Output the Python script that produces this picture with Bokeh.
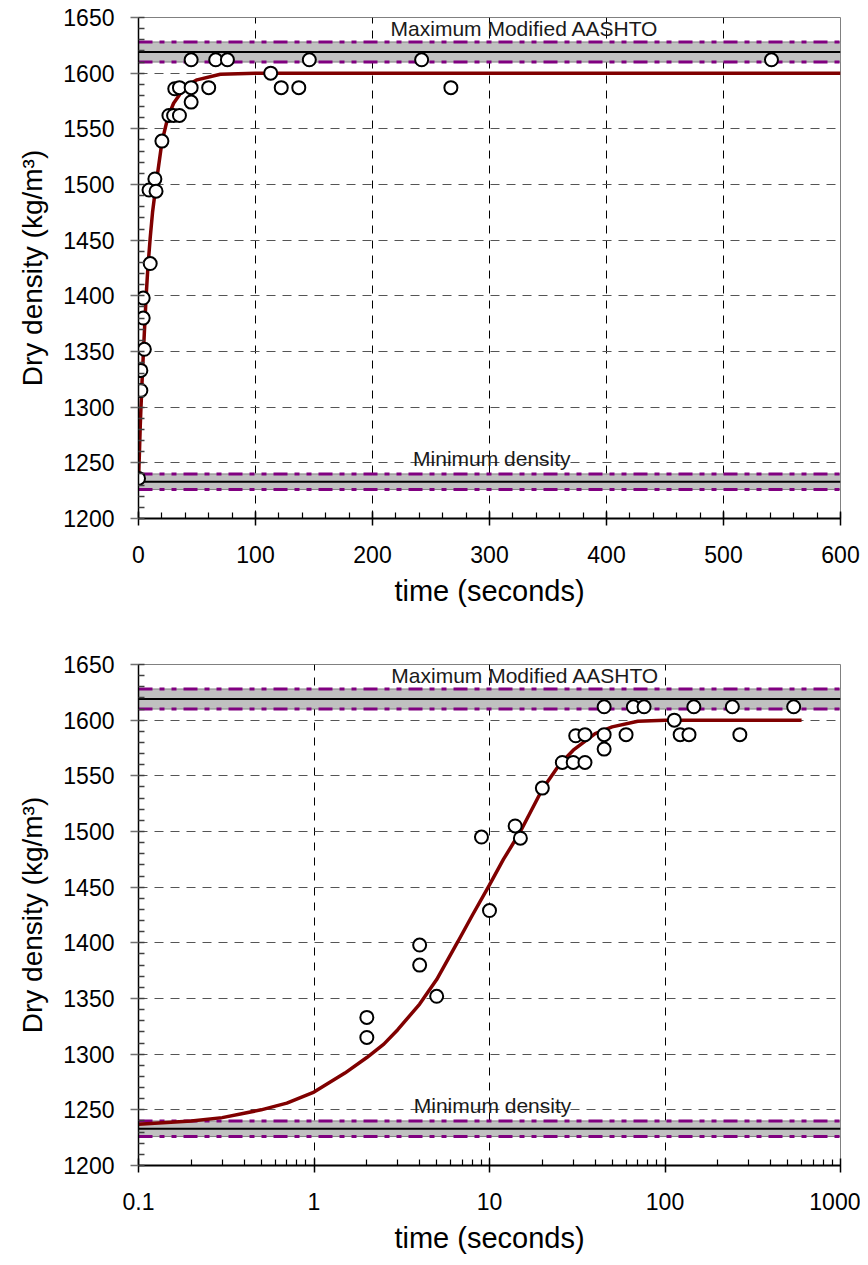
from bokeh.plotting import figure
from bokeh.models import Range1d, FixedTicker, Label
from bokeh.layouts import column
from bokeh.embed import file_html
from bokeh.resources import INLINE

# ---------------- data ----------------
obs_time = [0, 2, 2, 4, 4, 5, 9, 10, 14, 15, 20, 26, 30, 35, 31, 35,
            45, 45, 45, 60, 66, 76, 113, 122, 137, 146, 242, 267, 541]
obs_density = [1236, 1333, 1315, 1398, 1380, 1352, 1495, 1429, 1505, 1494,
               1539, 1562, 1562, 1562, 1586, 1587, 1574, 1587, 1612, 1587,
               1612, 1612, 1600, 1587, 1587, 1612, 1612, 1587, 1612]

fit_time = [0, 0.1, 0.2, 0.3, 0.4, 0.5, 0.7, 1, 1.5, 2, 2.5, 3, 4, 5, 6.6,
            8, 10, 12, 15, 20, 25, 30, 40, 50, 70, 100, 200, 600]
fit_density = [1236, 1237, 1240, 1243, 1247, 1250, 1256, 1266, 1283, 1297,
               1309, 1322, 1345, 1367, 1401, 1425, 1452, 1475, 1500, 1538,
               1560, 1573, 1588, 1594, 1599, 1600, 1600, 1600]

max_aashto = 1619
max_band = (1610, 1628)
min_density = 1233
min_band = (1226, 1240)

y_ticks = [1200, 1250, 1300, 1350, 1400, 1450, 1500, 1550, 1600, 1650]
x_ticks_lin = [0, 100, 200, 300, 400, 500, 600]
x_ticks_log = [0.1, 1, 10, 100, 1000]
x_tick_labels_log = ["0.1", "1", "10", "100", "1000"]

label_max = "Maximum Modified AASHTO"
label_min = "Minimum density"

FONT = "Liberation Sans"
PURPLE = "#800080"
CURVE = "#800000"
DASHDOT = "14 7 5 7 5 7"


def build(log, x_lo, x_hi, top_border, bottom_border, lab_max_x, lab_min_x):
    kw = dict(x_axis_type="log") if log else {}
    p = figure(frame_width=702, frame_height=501,
               x_range=Range1d(x_lo, x_hi), y_range=Range1d(1200, 1650),
               output_backend="svg", toolbar_location=None, **kw)
    p.min_border_left = 138
    p.min_border_right = 20
    p.min_border_top = top_border
    p.min_border_bottom = bottom_border
    p.outline_line_color = "#808080"
    p.outline_line_width = 1
    p.background_fill_color = "white"

    # y axis
    yax = p.yaxis[0]
    yax.ticker = FixedTicker(ticks=y_ticks,
                             minor_ticks=[v for v in range(1200, 1651, 10)])
    yax.axis_line_color = "black"
    yax.axis_line_width = 1.5
    yax.major_tick_out = 8
    yax.major_tick_in = 0
    yax.major_tick_line_color = "#707070"
    yax.major_tick_line_width = 1.5
    yax.minor_tick_in = 6
    yax.minor_tick_out = 0
    yax.minor_tick_line_color = "#404040"
    yax.minor_tick_line_width = 1.5
    yax.major_label_text_font = FONT
    yax.major_label_text_font_size = "23px"
    yax.major_label_text_color = "black"
    yax.major_label_standoff = 16
    yax.axis_label = "Dry density (kg/m\u00b3)"
    yax.axis_label_text_font = FONT
    yax.axis_label_text_font_size = "28px"
    yax.axis_label_text_font_style = "normal"
    yax.axis_label_text_color = "black"
    yax.axis_label_standoff = 12

    # x axis
    xax = p.xaxis[0]
    if log:
        minors = []
        for dec in [0.1, 1, 10, 100]:
            minors += [dec * k for k in range(2, 10)]
        xax.ticker = FixedTicker(ticks=x_ticks_log, minor_ticks=minors)
        xax.major_label_overrides = {t: s for t, s in zip(x_ticks_log, x_tick_labels_log)}
    else:
        xax.ticker = FixedTicker(ticks=x_ticks_lin,
                                 minor_ticks=[v for v in range(0, 601, 20)])
    xax.axis_line_color = "black"
    xax.axis_line_width = 2
    xax.major_tick_out = 7
    xax.major_tick_in = 7
    xax.major_tick_line_color = "black"
    xax.major_tick_line_width = 1.5
    xax.minor_tick_in = 6
    xax.minor_tick_out = 0
    xax.minor_tick_line_color = "black"
    xax.minor_tick_line_width = 1.2
    xax.major_label_text_font = FONT
    xax.major_label_text_font_size = "23px"
    xax.major_label_text_color = "black"
    xax.major_label_standoff = 20
    xax.axis_label = "time (seconds)"
    xax.axis_label_text_font = FONT
    xax.axis_label_text_font_size = "29px"
    xax.axis_label_text_font_style = "normal"
    xax.axis_label_text_color = "black"
    xax.axis_label_standoff = 9

    # grids
    p.xgrid.ticker = xax.ticker
    p.ygrid.ticker = yax.ticker
    p.xgrid.grid_line_color = "black"
    p.xgrid.grid_line_dash = "8 7"
    p.xgrid.grid_line_width = 1
    p.ygrid.grid_line_color = "#555555"
    p.ygrid.grid_line_dash = "9 7"
    p.ygrid.grid_line_width = 1.2

    # bands with reference lines
    for lo, hi, mid in [(max_band[0], max_band[1], max_aashto),
                        (min_band[0], min_band[1], min_density)]:
        p.quad(left=[x_lo], right=[x_hi], bottom=[lo], top=[hi],
               fill_color="#C0C0C0", line_color="#808080", line_width=1)
        p.line([x_lo, x_hi], [mid, mid], line_color="black", line_width=2)
        for yv in (lo, hi):
            p.line([x_lo, x_hi], [yv, yv], line_color=PURPLE,
                   line_width=3, line_dash=DASHDOT)

    # fitted curve and observations
    if log:
        ft = [t for t in fit_time if t > 0]
        fd = [d for t, d in zip(fit_time, fit_density) if t > 0]
        ot = [t for t in obs_time if t > 0]
        od = [d for t, d in zip(obs_time, obs_density) if t > 0]
    else:
        ft, fd, ot, od = fit_time, fit_density, obs_time, obs_density
    p.line(ft, fd, line_color=CURVE, line_width=3.5)
    p.scatter(ot, od, marker="circle", size=13, fill_color="white",
              line_color="black", line_width=2)

    p.add_layout(Label(x=lab_max_x, y=1640, text=label_max,
                       text_align="center", text_baseline="middle",
                       text_font=FONT, text_font_size="21px",
                       text_color="#1a1a1a"))
    p.add_layout(Label(x=lab_min_x, y=1254, text=label_min,
                       text_align="center", text_baseline="middle",
                       text_font=FONT, text_font_size="21px",
                       text_color="#1a1a1a"))
    return p


p1 = build(False, 0, 600, 17, 110, 330, 302)
p2 = build(True, 0.1, 1000, 36, 90, 16, 10.4)

layout = column(p1, p2, spacing=0)
open("out.html", "w").write(file_html(layout, INLINE))
